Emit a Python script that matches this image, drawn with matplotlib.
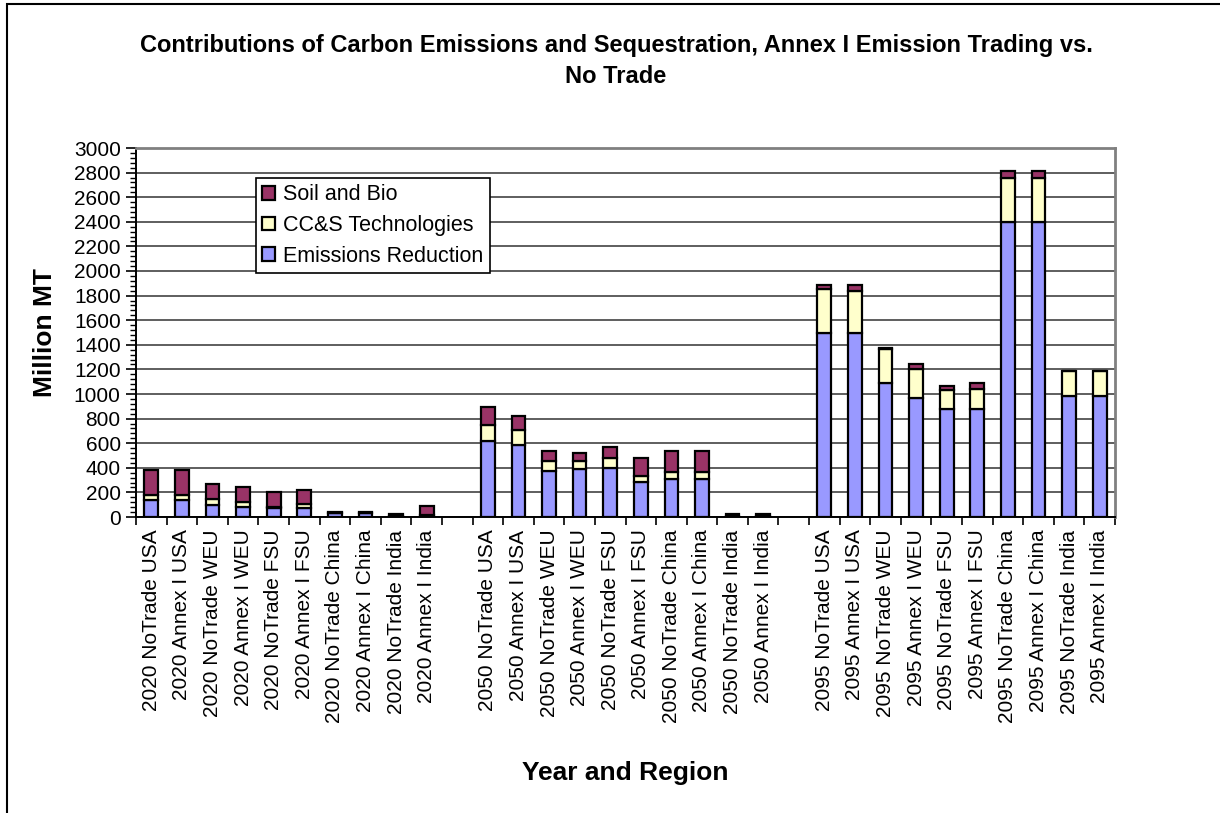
import matplotlib
matplotlib.use('Agg')
from matplotlib import pyplot as plt
from matplotlib.patches import Rectangle
from matplotlib.ticker import MultipleLocator
import numpy as np

plt.rcParams['font.family'] = ['Liberation Sans', 'DejaVu Sans']

# x categories (blank slots separate the years)
labels = ['2020 NoTrade USA', '2020 Annex I USA', '2020 NoTrade WEU', '2020 Annex I WEU',
          '2020 NoTrade FSU', '2020 Annex I FSU', '2020 NoTrade China', '2020 Annex I China',
          '2020 NoTrade India', '2020 Annex I India', '',
          '2050 NoTrade USA', '2050 Annex I USA', '2050 NoTrade WEU', '2050 Annex I WEU',
          '2050 NoTrade FSU', '2050 Annex I FSU', '2050 NoTrade China', '2050 Annex I China',
          '2050 NoTrade India', '2050 Annex I India', '',
          '2095 NoTrade USA', '2095 Annex I USA', '2095 NoTrade WEU', '2095 Annex I WEU',
          '2095 NoTrade FSU', '2095 Annex I FSU', '2095 NoTrade China', '2095 Annex I China',
          '2095 NoTrade India', '2095 Annex I India']

# Million MT
emissions = [140, 140, 100, 85, 70, 70, 30, 30, 5, 15, 0,
             620, 585, 378, 390, 400, 287, 311, 311, 10, 10, 0,
             1495, 1495, 1087, 967, 880, 880, 2400, 2400, 980, 980]
ccs = [40, 40, 45, 40, 15, 35, 0, 0, 0, 5, 0,
       125, 120, 80, 68, 82, 50, 57, 57, 0, 0, 0,
       355, 340, 280, 240, 152, 163, 355, 355, 205, 205]
soil = [205, 205, 120, 120, 120, 115, 10, 10, 20, 70, 0,
        150, 115, 80, 65, 90, 145, 170, 170, 15, 15, 0,
        35, 55, 5, 40, 33, 50, 60, 60, 5, 5]

fig = plt.figure(figsize=(12.2, 8.13), dpi=100)
ax = fig.add_axes([136 / 1220, 1 - 517 / 813, 979 / 1220, 369 / 813])

x = np.arange(len(labels))
emissions = np.array(emissions)
ccs = np.array(ccs)
soil = np.array(soil)
keep = np.array([lab != '' for lab in labels])

w = 0.45
kw = dict(width=w, edgecolor='black', linewidth=1.6, zorder=3)
ax.bar(x[keep], emissions[keep], color='#9999FF', label='Emissions Reduction', **kw)
ax.bar(x[keep], ccs[keep], bottom=emissions[keep], color='#FFFFCC', label='CC&S Technologies', **kw)
ax.bar(x[keep], soil[keep], bottom=(emissions + ccs)[keep], color='#993366', label='Soil and Bio', **kw)

ax.set_xlim(-0.5, len(labels) - 0.5)
ax.set_ylim(0, 3000)
ax.yaxis.set_major_locator(MultipleLocator(200))
ax.yaxis.set_minor_locator(MultipleLocator(40))
ax.grid(axis='y', which='major', color='#333333', linewidth=1.1, zorder=0)
ax.set_axisbelow(True)

ax.set_xticks(x)
ax.set_xticklabels(labels, rotation=90, fontsize=15)
ax.set_xticks(np.arange(len(labels) + 1) - 0.5, minor=True)
ax.tick_params(axis='x', which='major', length=0, pad=9)
ax.tick_params(axis='x', which='minor', length=6, width=1.2, direction='out')
ax.tick_params(axis='y', which='major', length=7, width=1.2, labelsize=15, pad=4)
ax.tick_params(axis='y', which='minor', length=4, width=1.0)

for side in ['left', 'bottom']:
    ax.spines[side].set_color('black')
    ax.spines[side].set_linewidth(1.4)
for side in ['top', 'right']:
    ax.spines[side].set_color('#808080')
    ax.spines[side].set_linewidth(2)

fig.text(45 / 1220, 1 - 333 / 813, 'Million MT', fontsize=19, fontweight='bold',
         rotation=90, ha='center', va='center')
fig.text(625 / 1220, 1 - 773 / 813, 'Year and Region', fontsize=19, fontweight='bold',
         ha='center', va='center')
fig.text(616 / 1220, 1 - 61 / 813,
         'Contributions of Carbon Emissions and Sequestration, Annex I Emission Trading vs.\nNo Trade',
         fontsize=17, fontweight='bold', ha='center', va='center', linespacing=1.45)

handles, labs = ax.get_legend_handles_labels()
leg = ax.legend(handles[::-1], labs[::-1], loc='upper left',
                bbox_to_anchor=((256 - 136) / 979, (517 - 178) / 369),
                fontsize=15.5, frameon=True, fancybox=False, framealpha=1,
                edgecolor='black', handlelength=0.6, handleheight=0.6,
                handletextpad=0.35, labelspacing=0.45, borderpad=0.3, borderaxespad=0)
leg.get_frame().set_linewidth(1.2)
leg.set_zorder(5)

# outer chart border
fig.patches.append(Rectangle((7 / 1220, -0.1), 1.2, 1.1 - 4 / 813, transform=fig.transFigure,
                             fill=False, edgecolor='black', linewidth=1.5))

plt.savefig('out.png', dpi=100)
